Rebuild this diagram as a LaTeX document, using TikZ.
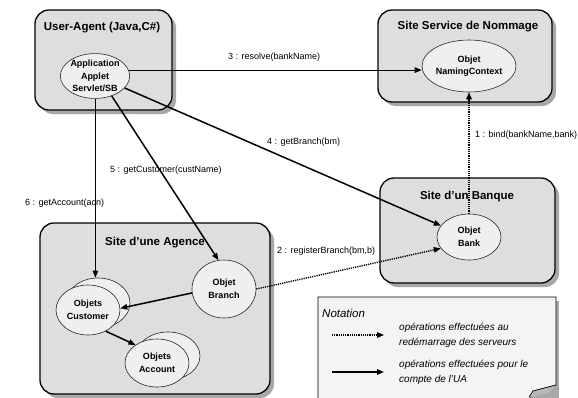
\documentclass[tikz,border=0pt]{standalone}
\usepackage{fontspec}
\setmainfont{Liberation Sans}
\usetikzlibrary{shapes.geometric,arrows.meta}

\definecolor{sitefill}{HTML}{DEDEDE}
\definecolor{objfill}{HTML}{EFEFEF}
\definecolor{shadowgray}{HTML}{A8A8A8}
\definecolor{notefill}{HTML}{F4F4F4}

\tikzset{
  sitebox/.style={draw=black, line width=1.3pt, fill=sitefill, rounded corners=14pt},
  siteshadow/.style={fill=shadowgray, rounded corners=14pt},
  sitetitle/.style={font=\bfseries\fontsize{11.5}{13}\selectfont, inner sep=0pt},
  obj/.style={ellipse, draw=black!85, line width=0.6pt, fill=objfill, inner sep=0pt,
              align=center, font=\bfseries\fontsize{9}{12.5}\selectfont},
  lbl/.style={font=\fontsize{9}{10}\selectfont, inner sep=0pt, anchor=west},
  call/.style={-{Triangle[length=7pt,width=5.5pt]}, line width=1.5pt},
  boot/.style={call, line width=1.4pt, dash pattern=on 1.2pt off 1pt},
  notetext/.style={font=\itshape\fontsize{10}{14.5}\selectfont, inner sep=0pt, align=left}
}

\begin{document}
\begin{tikzpicture}[x=1pt,y=-1pt]
\useasboundingbox (0,0) rectangle (578,397);

% --- sites (containers) ---
\path[siteshadow] (39,14) rectangle (176,114);
\draw[sitebox] (35,10) rectangle (172,110);
\node[sitetitle] (uatitle) at (102,28) {User-Agent (Java,C\#)};

\path[siteshadow] (382,14) rectangle (556,106);
\draw[sitebox] (378,10) rectangle (552,102);
\node[sitetitle] (nstitle) at (468,27) {Site Service de Nommage};

\path[siteshadow] (384,182) rectangle (559,287);
\draw[sitebox] (380,178) rectangle (555,283);
\node[sitetitle] (bktitle) at (467,197) {Site d'un Banque};

\path[siteshadow] (44,227) rectangle (274,398);
\draw[sitebox] (40,223) rectangle (270,394);
\node[sitetitle] (agtitle) at (155,243) {Site d'une Agence};

% --- objects ---
\node[obj, minimum width=66pt, minimum height=42pt] (app) at (95,76)
  {Application\\Applet\\Servlet/SB};
\node[obj, minimum width=64pt, minimum height=52pt] (nc) at (469,66)
  {Objet\\NamingContext};
\node[obj, minimum width=64pt, minimum height=46pt] (bank) at (469,237)
  {Objet\\Bank};
\node[obj, minimum width=64pt, minimum height=58pt] (branch) at (224,289)
  {Objet\\Branch};
\node[obj, minimum width=64pt, minimum height=50pt] (custback) at (98,303) {};
\node[obj, minimum width=64pt, minimum height=50pt] (cust) at (88,310)
  {Objets\\Customer};
\node[obj, minimum width=64pt, minimum height=48pt] (accback) at (168,356) {};
\node[obj, minimum width=64pt, minimum height=48pt] (acc) at (157,363)
  {Objets\\Account};

% --- calls ---
\draw[boot] (bank.north) -- (nc.south);
\node[lbl] (l1) at (475,135) {1 : bind(bankName,bank)};

\draw[boot] (branch.east) -- (bank.202);
\node[lbl] (l2) at (277,251) {2 : registerBranch(bm,b)};

\draw[call, line width=1.1pt] (app.10) -- (app.10 -| nc.west);
\node[lbl] (l3) at (228,57) {3 : resolve(bankName)};

\draw[call] (app.-22) -- (bank.158);
\node[lbl] (l4) at (267,142) {4 : getBranch(bm)};

\draw[call] (app.-50) -- (branch.101);
\node[lbl] (l5) at (110,170) {5 : getCustomer(custName)};

\draw[call, line width=0.8pt] (app.-89) -- (app.-89 |- custback.north);
\node[lbl] (l6) at (25,203) {6 : getAccount(acn)};

\draw[call] (branch.187) -- (cust.3);
\draw[call] (cust.-50) -- (acc.140);

% --- notation ---
\path[fill=shadowgray] (322,301) rectangle (559,400);
\draw[line width=0.6pt, fill=notefill] (318,400) -- (318,297) -- (556,297) -- (556,385)
  -- (533,391) -- (529,400);
\fill[shadowgray!80] (556,385) -- (533,391) -- (529,397) -- (548,393) -- cycle;
\draw[line width=0.6pt] (556,385) -- (533,391) -- (529,397);
\node[font=\itshape\fontsize{11.5}{13}\selectfont, inner sep=0pt, anchor=west] (nottitle) at (322,313) {Notation};

\coordinate (d1) at (332,335);
\coordinate (d2) at (384,335);
\draw[boot] (d1) -- (d2);
\node[notetext, anchor=north west] (n1) at (399,323) {opérations effectuées au\\redémarrage des serveurs};

\coordinate (s1) at (332,372);
\coordinate (s2) at (384,372);
\draw[call] (s1) -- (s2);
\node[notetext, anchor=north west] (n2) at (399,360) {opérations effectuées pour le\\compte de l'UA};
\end{tikzpicture}
\end{document}
